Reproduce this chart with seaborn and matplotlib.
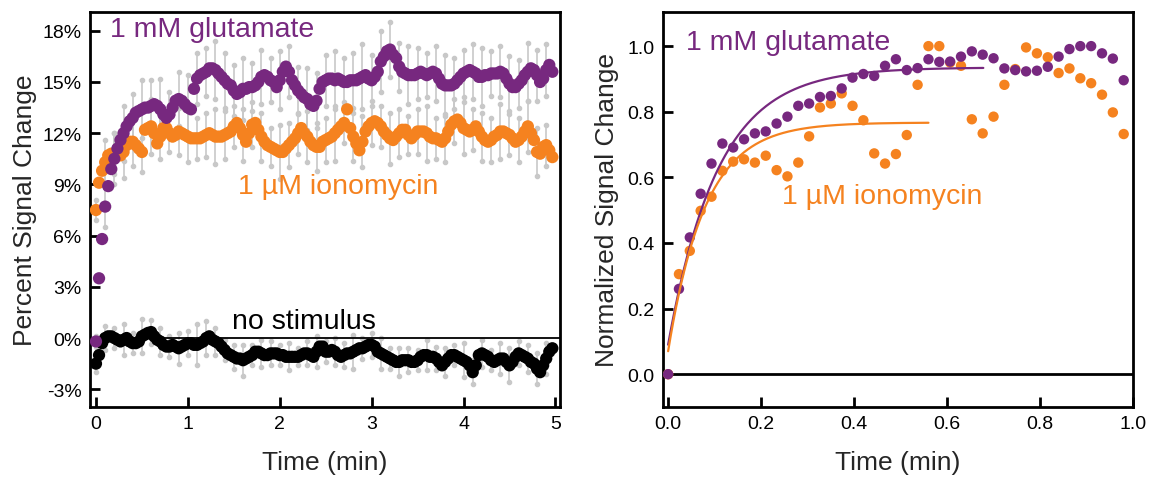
import numpy as np
import pandas as pd
import matplotlib
matplotlib.use("Agg")
import matplotlib.pyplot as plt
import seaborn as sns

# ---------------- data ----------------
# Left panel: percent signal change, sampled every 2 s (1/30 min)
glutamate_pct = [
    -0.2, 3.5, 5.8, 7.7, 8.9, 9.9, 10.5, 11.1, 11.6, 12.0,
    12.4, 12.7, 12.9, 13.2, 13.3, 13.4, 13.5, 13.5, 13.6, 13.7,
    13.6, 13.4, 13.1, 12.9, 13.1, 13.5, 13.9, 14.0, 13.9, 13.7,
    13.5, 13.4, 14.6, 15.2, 15.4, 15.5, 15.6, 15.8, 15.8, 15.7,
    15.5, 15.3, 15.1, 14.9, 14.8, 14.5, 14.3, 14.4, 14.6, 14.6,
    14.7, 14.7, 14.8, 15.0, 15.3, 15.4, 15.3, 15.1, 15.0, 14.7,
    15.1, 15.6, 15.9, 15.6, 15.1, 14.8, 14.5, 14.3, 14.1, 14.0,
    13.7, 13.6, 13.9, 14.6, 15.0, 15.1, 15.2, 15.2, 15.1, 15.2,
    15.1, 15.0, 15.0, 15.1, 15.1, 15.1, 15.2, 15.3, 15.4, 15.2,
    15.1, 15.3, 15.6, 16.2, 16.5, 16.8, 16.9, 16.6, 16.4, 15.9,
    15.6, 15.5, 15.4, 15.4, 15.4, 15.5, 15.6, 15.5, 15.4, 15.5,
    15.6, 15.5, 15.2, 14.9, 14.8, 14.8, 14.8, 14.9, 15.1, 15.3,
    15.5, 15.6, 15.7, 15.6, 15.5, 15.3, 15.3, 15.4, 15.4, 15.5,
    15.5, 15.5, 15.6, 15.5, 15.2, 14.9, 14.7, 14.7, 14.9, 15.1,
    15.4, 15.6, 15.8, 15.7, 15.4, 15.0, 15.2, 15.7, 16.0, 15.6,
]
ionomycin_pct = [
    7.5, 9.1, 9.8, 10.3, 10.7, 10.8, 10.8, 10.8, 10.7, 10.9,
    11.3, 11.5, 11.5, 11.3, 11.1, 10.9, 12.2, 12.3, 12.4, 12.0,
    11.4, 11.8, 12.3, 12.3, 12.0, 11.8, 11.9, 12.1, 12.0, 11.9,
    11.8, 11.7, 11.7, 11.7, 11.7, 11.8, 11.9, 12.0, 11.9, 11.8,
    11.8, 11.8, 11.9, 12.0, 12.1, 12.4, 12.6, 12.3, 11.9, 11.5,
    12.0, 12.5, 12.6, 12.2, 11.8, 11.5, 11.3, 11.2, 11.1, 11.0,
    10.9, 10.9, 11.1, 11.3, 11.5, 11.7, 12.0, 12.3, 12.0, 11.8,
    11.5, 11.3, 11.2, 11.2, 11.5, 11.6, 11.7, 11.8, 12.0, 12.2,
    12.4, 12.6, 13.4, 12.3, 11.8, 11.4, 11.0, 11.5, 12.1, 12.4,
    12.6, 12.7, 12.6, 12.4, 12.1, 11.9, 11.7, 11.6, 11.8, 12.0,
    12.2, 12.2, 11.9, 11.7, 11.9, 12.1, 12.1, 12.1, 12.0, 11.8,
    11.7, 11.7, 11.6, 11.5, 11.7, 12.1, 12.5, 12.7, 12.8, 12.6,
    12.3, 12.2, 12.1, 12.2, 12.4, 12.1, 11.8, 11.6, 11.5, 11.6,
    11.8, 11.9, 12.1, 12.1, 12.0, 11.9, 11.7, 11.5, 11.6, 11.8,
    12.1, 12.4, 12.0, 11.6, 10.9, 10.8, 11.2, 11.3, 11.0, 10.6,
]
no_stimulus_pct = [
    -1.5, -1.0, -0.3, 0.0, 0.1, 0.1, 0.0, -0.1, -0.2, -0.1,
    0.0, -0.2, -0.3, -0.3, -0.2, 0.1, 0.2, 0.3, 0.35, 0.1,
    -0.1, -0.2, -0.4, -0.5, -0.5, -0.4, -0.5, -0.6, -0.5, -0.4,
    -0.3, -0.3, -0.4, -0.4, -0.3, -0.2, 0.0, 0.1, -0.1, -0.2,
    -0.3, -0.5, -0.7, -0.9, -1.0, -1.1, -1.2, -1.2, -1.3, -1.2,
    -1.1, -1.0, -0.8, -0.8, -0.9, -1.0, -1.0, -0.9, -0.9, -0.9,
    -1.0, -1.0, -1.1, -1.1, -1.1, -1.1, -1.1, -1.0, -0.9, -0.9,
    -1.0, -1.1, -0.8, -0.5, -0.5, -0.8, -0.8, -0.7, -0.8, -1.0,
    -1.1, -1.0, -0.9, -0.9, -0.8, -0.7, -0.6, -0.6, -0.5, -0.4,
    -0.4, -0.5, -0.8, -0.9, -1.0, -1.1, -1.2, -1.3, -1.4, -1.4,
    -1.3, -1.3, -1.3, -1.4, -1.4, -1.3, -1.1, -1.0, -1.0, -1.1,
    -1.1, -1.2, -1.4, -1.6, -1.4, -1.2, -1.0, -1.0, -1.1, -1.2,
    -1.3, -1.4, -1.6, -2.0, -1.6, -1.0, -0.9, -1.0, -1.1, -1.3,
    -1.4, -1.3, -1.2, -1.2, -1.4, -1.6, -1.4, -1.1, -0.9, -1.0,
    -1.1, -1.2, -1.4, -1.5, -1.8, -2.0, -1.6, -1.2, -0.8, -0.6,
]
# error bars (SEM), one per 0.1 min
glutamate_err = [
    0.3, 1.2, 1.5, 1.6, 1.4, 1.7, 1.5, 1.8, 1.3, 1.6,
    1.9, 1.5, 1.4, 1.7, 1.6, 1.5, 1.8, 1.4, 1.6, 1.3,
    1.7, 1.5, 1.4, 1.8, 1.6, 1.5, 1.7, 1.4, 1.6, 1.9,
    1.5, 1.8, 1.6, 1.4, 1.7, 1.5, 1.3, 1.6, 1.8, 1.5,
    1.4, 1.6, 1.7, 1.3, 1.5, 1.6, 1.4, 1.7, 1.5, 1.5,
]
ionomycin_err = [
    0.6, 1.3, 1.2, 1.5, 1.4, 1.2, 1.6, 1.3, 1.1, 1.4,
    1.5, 1.2, 1.3, 1.6, 1.4, 1.2, 1.5, 1.3, 1.4, 1.1,
    1.6, 1.3, 1.2, 1.5, 1.4, 1.3, 1.6, 1.2, 1.4, 1.5,
    1.3, 1.2, 1.5, 1.4, 1.1, 1.3, 1.6, 1.2, 1.4, 1.3,
    1.5, 1.2, 1.4, 1.3, 1.6, 1.2, 1.3, 1.5, 1.4, 1.2,
]
no_stimulus_err = [
    0.5, 0.7, 0.6, 0.9, 0.6, 1.0, 0.7, 0.8, 0.6, 0.9,
    0.7, 1.2, 1.0, 0.8, 0.6, 0.7, 0.9, 0.6, 0.8, 0.7,
    0.6, 0.8, 0.5, 0.7, 0.9, 0.6, 0.8, 0.7, 1.0, 0.6,
    0.7, 0.9, 0.6, 0.8, 0.7, 0.6, 0.9, 0.7, 0.8, 0.6,
    1.0, 0.7, 0.8, 0.6, 0.9, 1.0, 0.7, 0.8, 0.9, 0.9,
]

# Right panel: normalized signal change, sampled every 1.4 s
glutamate_norm = [
    0.0, 0.26, 0.417, 0.55, 0.642, 0.703, 0.691, 0.716, 0.734, 0.740,
    0.764, 0.785, 0.818, 0.825, 0.845, 0.848, 0.871, 0.904, 0.915, 0.909,
    0.94, 0.96, 0.927, 0.933, 0.96, 0.952, 0.953, 0.968, 0.984, 0.974,
    0.963, 0.932, 0.927, 0.923, 0.925, 0.937, 0.968, 0.991, 1.0, 1.0,
    0.978, 0.962, 0.896,
]
ionomycin_norm = [
    0.0, 0.305, 0.376, 0.498, 0.541, 0.62, 0.648, 0.655, 0.645, 0.666,
    0.622, 0.603, 0.645, 0.725, 0.813, 0.825, 0.856, 0.818, 0.774, 0.673,
    0.642, 0.671, 0.729, 0.882, 1.0, 1.0, 0.95, 0.94, 0.777, 0.734,
    0.785, 0.882, 0.93, 0.996, 0.978, 0.966, 0.918, 0.932, 0.902, 0.887,
    0.852, 0.798, 0.732,
]
# single-exponential fits: plateau, offset, time constant (min), fit range end (min)
glutamate_fit = dict(plateau=0.935, start=0.09, tau=0.107, t_end=0.678)
ionomycin_fit = dict(plateau=0.767, start=0.07, tau=0.080, t_end=0.56)

left_yticks = [-3, 0, 3, 6, 9, 12, 15, 18]
left_yticklabels = ["-3%", "0%", "3%", "6%", "9%", "12%", "15%", "18%"]
left_xticks = [0, 1, 2, 3, 4, 5]
right_ticks = [0.0, 0.2, 0.4, 0.6, 0.8, 1.0]
right_ticklabels = ["0.0", "0.2", "0.4", "0.6", "0.8", "1.0"]

PURPLE = "#77287F"
ORANGE = "#F5821F"
GRAY = "#C8C8C8"

# ---------------- style ----------------
sns.set_theme(style="ticks")
plt.rcParams["font.family"] = ["Liberation Sans", "DejaVu Sans"]
plt.rcParams["axes.linewidth"] = 2.0

fig = plt.figure(figsize=(11.49, 4.81), dpi=100)
axL = fig.add_axes([90 / 1149, 1 - 408 / 481, 470 / 1149, 395 / 481])
axR = fig.add_axes([663 / 1149, 1 - 408 / 481, 470 / 1149, 395 / 481])

time_min = np.arange(len(glutamate_pct)) / 30.0
left_df = pd.DataFrame({
    "time": np.concatenate([time_min] * 3),
    "pct": np.concatenate([no_stimulus_pct, ionomycin_pct, glutamate_pct]),
    "cond": ["no stimulus"] * len(time_min) + ["ionomycin"] * len(time_min)
            + ["glutamate"] * len(time_min),
})

# error bars every 0.1 min
for vals, errs in [(no_stimulus_pct, no_stimulus_err),
                   (ionomycin_pct, ionomycin_err),
                   (glutamate_pct, glutamate_err)]:
    tt = time_min[::3]
    vv = np.asarray(vals)[::3]
    ee = np.asarray(errs)
    axL.vlines(tt, vv - ee, vv + ee, color=GRAY, lw=1.2, zorder=1)
    axL.plot(tt, vv + ee, "o", color=GRAY, ms=3, zorder=1)
    axL.plot(tt, vv - ee, "o", color=GRAY, ms=3, zorder=1)

axL.axhline(0, color="black", lw=1.3, zorder=1.5)

sns.scatterplot(data=left_df, x="time", y="pct", hue="cond",
                palette={"no stimulus": "black", "ionomycin": ORANGE,
                         "glutamate": PURPLE},
                s=78, linewidth=0, legend=False, ax=axL, zorder=3)

axL.set_xlim(-0.065, 5.05)
axL.set_ylim(-4.04, 19.1)
axL.set_xticks(left_xticks)
axL.set_yticks(left_yticks)
axL.set_yticklabels(left_yticklabels)
axL.set_xlabel("Time (min)", fontsize=19, labelpad=13)
axL.set_ylabel("Percent Signal Change", fontsize=19, labelpad=4)

axL.text(0.15, 17.68, "1 mM glutamate", color=PURPLE, fontsize=20.5, va="baseline")
axL.text(1.547, 8.48, "1 \u00b5M ionomycin", color=ORANGE, fontsize=20.5, va="baseline")
axL.text(1.48, 0.59, "no stimulus", color="black", fontsize=20.5, va="baseline")

# ---------------- right panel ----------------
norm_time = np.arange(len(glutamate_norm)) * 1.4 / 60.0
right_df = pd.DataFrame({
    "time": np.concatenate([norm_time, norm_time]),
    "norm": np.concatenate([ionomycin_norm, glutamate_norm]),
    "cond": ["ionomycin"] * len(norm_time) + ["glutamate"] * len(norm_time),
})

axR.axhline(0, color="black", lw=2, zorder=1)

fit_rows = []
for name, p in [("glutamate", glutamate_fit), ("ionomycin", ionomycin_fit)]:
    tf = np.linspace(0, p["t_end"], 200)
    yf = p["plateau"] - (p["plateau"] - p["start"]) * np.exp(-tf / p["tau"])
    fit_rows.append(pd.DataFrame({"time": tf, "norm": yf, "cond": name}))
fit_df = pd.concat(fit_rows, ignore_index=True)

sns.scatterplot(data=right_df, x="time", y="norm", hue="cond",
                palette={"ionomycin": ORANGE, "glutamate": PURPLE},
                s=56, linewidth=0, legend=False, ax=axR, zorder=3)
sns.lineplot(data=fit_df, x="time", y="norm", hue="cond",
             palette={"ionomycin": ORANGE, "glutamate": PURPLE},
             lw=1.6, legend=False, ax=axR, zorder=4, sort=False)

axR.set_xlim(-0.011, 1.0)
axR.set_ylim(-0.10, 1.104)
axR.set_xticks(right_ticks)
axR.set_xticklabels(right_ticklabels)
axR.set_yticks(right_ticks)
axR.set_yticklabels(right_ticklabels)
axR.set_xlabel("Time (min)", fontsize=19, labelpad=13)
axR.set_ylabel("Normalized Signal Change", fontsize=19, labelpad=6)

axR.text(0.0387, 0.991, "1 mM glutamate", color=PURPLE, fontsize=20.5, va="baseline")
axR.text(0.245, 0.523, "1 \u00b5M ionomycin", color=ORANGE, fontsize=20.5, va="baseline")

for ax in (axL, axR):
    for sp in ax.spines.values():
        sp.set_visible(True)
        sp.set_linewidth(2.0)
        sp.set_color("black")
    ax.tick_params(direction="in", length=7, width=2, labelsize=14,
                   colors="black", pad=6)

fig.savefig("out.png", dpi=100)
